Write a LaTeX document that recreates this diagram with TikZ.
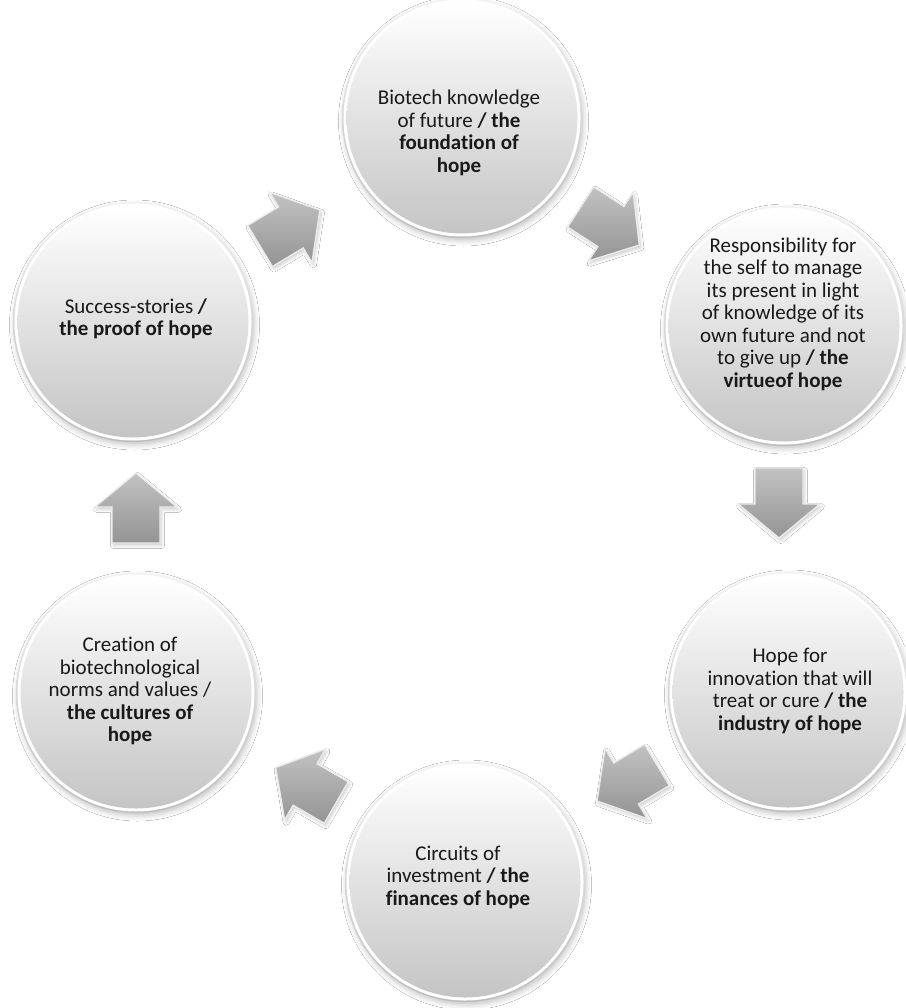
\documentclass[tikz,border=0pt]{standalone}
\usepackage{fontspec}
\setmainfont[Ligatures=NoCommon]{Carlito}
\usetikzlibrary{shadows.blur}
\tikzset{
  % glossy disc: grey rim, white ring, light gradient face
  bubble/.style={circle, minimum size=240pt, inner sep=0pt,
    top color=black!5, bottom color=black!26,
    blur shadow={shadow xshift=1.5pt, shadow yshift=-3pt,
                 shadow blur radius=5pt, shadow opacity=22},
    path picture={
      \fill[white] (path picture bounding box.center) circle (118.5pt);
      \shade[top color=white, middle color=black!5, bottom color=black!23]
        (path picture bounding box.center) circle (115.5pt);
    }},
  caption/.style={align=center, font=\fontsize{21}{22.5}\selectfont,
    text=black!90, inner sep=0pt},
  arrowbody/.style={top color=black!24, bottom color=black!42,
    draw=black!8, line width=1.4pt, line join=miter,
    blur shadow={shadow xshift=1.5pt, shadow yshift=-2.5pt,
                 shadow blur radius=3pt, shadow opacity=20}},
  cyclearrow/.pic={
    \path[arrowbody] (-35pt,-24pt) -- (1pt,-24pt) -- (1pt,-41pt)
      -- (35pt,0pt) -- (1pt,41pt) -- (1pt,24pt) -- (-35pt,24pt) -- cycle;
  },
}
\begin{document}
\begin{tikzpicture}[x=1pt, y=-1pt]
  \fill[white] (0,0) rectangle (905,1008);
  \useasboundingbox (0,0) rectangle (905,1008);

  % the six stages
  \node[bubble] (c1) at (462,118) {};
  \node[bubble] (c2) at (784,326) {};
  \node[bubble] (c3) at (788,692) {};
  \node[bubble] (c4) at (465,882) {};
  \node[bubble] (c5) at (136,693) {};
  \node[bubble] (c6) at (133,322) {};

  \node[caption] (t1) at (459,133) {Biotech knowledge\\of future \textbf{/ the}\\\textbf{foundation of}\\\textbf{hope}};
  \node[caption] (t2) at (783,314) {Responsibility for\\the self to manage\\its present in light\\of knowledge of its\\own future and not\\to give up \textbf{/ the}\\\textbf{virtueof hope}};
  \node[caption] (t3) at (790,691) {Hope for\\innovation that will\\treat or cure \textbf{/ the}\\\textbf{industry of hope}};
  \node[caption] (t4) at (458,877) {Circuits of\\investment \textbf{/ the}\\\textbf{finances of hope}};
  \node[caption] (t5) at (130,691) {Creation of\\biotechnological\\norms and values /\\\textbf{the cultures of}\\\textbf{hope}};
  \node[caption] (t6) at (136,319) {Success-stories \textbf{/}\\\textbf{the proof of hope}};

  % block arrows between the stages
  \coordinate (a1) at (290,228);
  \coordinate (a2) at (610,226);
  \coordinate (a3) at (779,503);
  \coordinate (a4) at (627,783);
  \coordinate (a5) at (306,785);
  \coordinate (a6) at (136,508);
  \pic[rotate=31]   at (a1) {cyclearrow};
  \pic[rotate=-33]  at (a2) {cyclearrow};
  \pic[rotate=-90]  at (a3) {cyclearrow};
  \pic[rotate=-149] at (a4) {cyclearrow};
  \pic[rotate=150]  at (a5) {cyclearrow};
  \pic[rotate=90]   at (a6) {cyclearrow};
\end{tikzpicture}
\end{document}
